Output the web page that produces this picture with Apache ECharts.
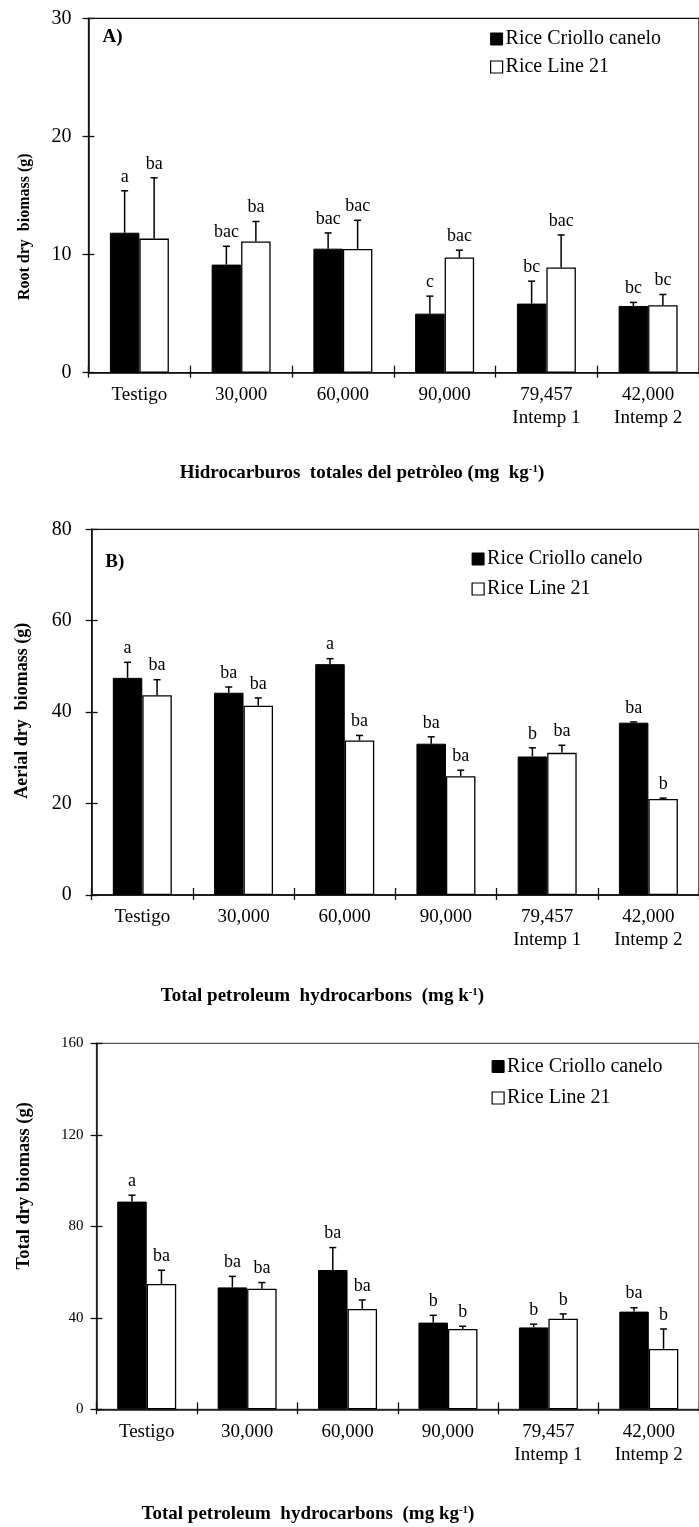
<!DOCTYPE html>
<html>
<head>
<meta charset="utf-8">
<script src="https://cdn.jsdelivr.net/npm/echarts@6/dist/echarts.min.js"></script>
<style>
html,body{margin:0;padding:0;background:#fff;overflow:hidden;}
#chart{width:699px;height:1527px;}
</style>
</head>
<body>
<div id="chart"></div>
<script>
// ---- data ----
const categories = ['Testigo', '30,000', '60,000', '90,000', '79,457\nIntemp 1', '42,000\nIntemp 2'];
const seriesNames = ['Rice Criollo canelo', 'Rice Line 21'];

// A) Root dry biomass (g)
const rootCriollo = [11.85, 9.15, 10.5, 5.0, 5.85, 5.65];
const rootCriolloErr = [3.55, 1.55, 1.33, 1.48, 1.9, 0.3];
const rootCriolloLetters = ['a', 'bac', 'bac', 'c', 'bc', 'bc'];
const rootLine21 = [11.35, 11.1, 10.48, 9.75, 8.9, 5.72];
const rootLine21Err = [5.15, 1.7, 2.42, 0.62, 2.76, 0.9];
const rootLine21Letters = ['ba', 'ba', 'bac', 'bac', 'bac', 'bc'];
const rootTicks = [0, 30, 10];

// B) Aerial dry biomass (g)
const aerialCriollo = [47.5, 44.25, 50.5, 33.1, 30.3, 37.7];
const aerialCriolloErr = [3.4, 1.25, 1.2, 1.5, 1.9, 0.15];
const aerialCriolloLetters = ['a', 'ba', 'a', 'ba', 'b', 'ba'];
const aerialLine21 = [43.7, 41.4, 33.8, 26.0, 31.1, 21.0];
const aerialLine21Err = [3.4, 1.7, 1.1, 1.3, 1.65, 0.2];
const aerialLine21Letters = ['ba', 'ba', 'ba', 'ba', 'ba', 'b'];
const aerialTicks = [0, 80, 20];

// C) Total dry biomass (g)
const totalCriollo = [90.8, 53.3, 60.9, 37.9, 35.8, 42.7];
const totalCriolloErr = [2.8, 4.8, 9.8, 3.2, 1.4, 1.7];
const totalCriolloLetters = ['a', 'ba', 'ba', 'b', 'b', 'ba'];
const totalLine21 = [54.8, 52.75, 43.9, 35.1, 39.6, 26.4];
const totalLine21Err = [6.0, 2.65, 3.9, 1.2, 2.1, 8.7];
const totalLine21Letters = ['ba', 'ba', 'ba', 'b', 'b', 'b'];
const totalTicks = [0, 160, 40];

// ---- layout / style ----
const SERIF = '"Liberation Serif", "Times New Roman", serif';
const INK = '#111';
const BAR_W = 29.5;

const panels = [
  {grid: {left: 88.5, top: 18.3, width: 618, height: 354.4}, ticks: rootTicks, yLabelSize: 20, yMargin: 17,
   borderColor: INK,
   a: [rootCriollo, rootCriolloErr, rootCriolloLetters], b: [rootLine21, rootLine21Err, rootLine21Letters],
   legend: {left: 490, top: 29, itemGap: 8}},
  {grid: {left: 91.7, top: 529.3, width: 613.4, height: 365.7}, ticks: aerialTicks, yLabelSize: 20, yMargin: 20,
   borderColor: INK,
   a: [aerialCriollo, aerialCriolloErr, aerialCriolloLetters], b: [aerialLine21, aerialLine21Err, aerialLine21Letters],
   legend: {left: 471.5, top: 549, itemGap: 10}},
  {grid: {left: 96.5, top: 1043.3, width: 614, height: 366}, ticks: totalTicks, yLabelSize: 15, yMargin: 13,
   borderColor: '#555',
   a: [totalCriollo, totalCriolloErr, totalCriolloLetters], b: [totalLine21, totalLine21Err, totalLine21Letters],
   legend: {left: 491.5, top: 1056.5, itemGap: 11.5}}
];

const grids = [], xAxes = [], yAxes = [], series = [], legends = [];

function errSeries(axisIdx, means, errs, letters, side) {
  return {
    type: 'custom', xAxisIndex: axisIdx, yAxisIndex: axisIdx, z: 5, clip: false,
    data: means.map((m, i) => [i, m, m + errs[i]]),
    renderItem: function (params, api) {
      const i = api.value(0);
      const base = api.coord([i, api.value(1)]);
      const top = api.coord([i, api.value(2)]);
      const x = base[0] + side * BAR_W / 2;
      return {
        type: 'group',
        children: [
          {type: 'line', shape: {x1: x, y1: base[1], x2: x, y2: top[1]}, style: {stroke: '#000', lineWidth: 1.5}},
          {type: 'line', shape: {x1: x - 3.5, y1: top[1], x2: x + 3.5, y2: top[1]}, style: {stroke: '#000', lineWidth: 1.5}},
          {type: 'text', x: x, y: top[1] - 5,
           style: {text: letters[params.dataIndex], font: '18px ' + SERIF, fill: '#000',
                   align: 'center', verticalAlign: 'bottom', textAlign: 'center', textVerticalAlign: 'bottom'}}
        ]
      };
    }
  };
}

panels.forEach((p, k) => {
  grids.push(Object.assign({show: true, borderColor: p.borderColor, borderWidth: 1.3, backgroundColor: 'transparent'}, p.grid));
  const ax = k * 2;
  xAxes.push({
    type: 'category', gridIndex: k, data: categories, position: 'bottom',
    axisLine: {show: true, lineStyle: {color: INK, width: 1.5}},
    axisTick: {show: true, length: 5, lineStyle: {color: INK, width: 1.3}},
    axisLabel: {interval: 0, color: '#000', fontFamily: SERIF, fontSize: 19, lineHeight: 23, margin: 11}
  });
  xAxes.push({
    type: 'category', gridIndex: k, data: categories, position: 'bottom',
    axisLine: {show: false},
    axisTick: {show: true, inside: true, length: 7, lineStyle: {color: INK, width: 1.3}},
    axisLabel: {show: false}
  });
  yAxes.push({
    type: 'value', gridIndex: k, min: p.ticks[0], max: p.ticks[1], interval: p.ticks[2], position: 'left',
    axisLine: {show: true, lineStyle: {color: INK, width: 1.5}},
    axisTick: {show: true, length: 6, lineStyle: {color: INK, width: 1.3}},
    axisLabel: {color: '#000', fontFamily: SERIF, fontSize: p.yLabelSize, margin: p.yMargin},
    splitLine: {show: false}
  });
  yAxes.push({
    type: 'value', gridIndex: k, min: p.ticks[0], max: p.ticks[1], interval: p.ticks[2], position: 'left',
    axisLine: {show: false},
    axisTick: {show: true, inside: true, length: 6, lineStyle: {color: INK, width: 1.3}},
    axisLabel: {show: false}, splitLine: {show: false}
  });
  series.push({
    type: 'bar', name: seriesNames[0], xAxisIndex: ax, yAxisIndex: ax, data: p.a[0],
    barWidth: BAR_W, barGap: '0%',
    itemStyle: {color: '#000', borderColor: '#000', borderWidth: 1}
  });
  series.push({
    type: 'bar', name: seriesNames[1], xAxisIndex: ax, yAxisIndex: ax, data: p.b[0],
    barWidth: BAR_W, barGap: '0%',
    itemStyle: {color: '#fff', borderColor: '#000', borderWidth: 1.3}
  });
  series.push(errSeries(ax, p.a[0], p.a[1], p.a[2], -1));
  series.push(errSeries(ax, p.b[0], p.b[1], p.b[2], 1));
  legends.push({
    left: p.legend.left, top: p.legend.top, orient: 'vertical', padding: 0, itemGap: p.legend.itemGap,
    itemWidth: 12, itemHeight: 12, icon: 'rect', selectedMode: false,
    textStyle: {fontFamily: SERIF, fontSize: 20, color: '#000', padding: [0, 0, 0, -2]},
    data: [
      {name: seriesNames[0], itemStyle: {color: '#000', borderColor: '#000', borderWidth: 1}},
      {name: seriesNames[1], itemStyle: {color: '#fff', borderColor: '#000', borderWidth: 1.2}}
    ]
  });
});

function txt(x, y, text, size, rot, rich) {
  const st = {text: text, font: 'bold ' + size + 'px ' + SERIF, fill: '#000',
              align: 'center', verticalAlign: 'middle', textAlign: 'center', textVerticalAlign: 'middle'};
  if (rich) st.rich = rich;
  return {type: 'text', x: x, y: y, rotation: rot || 0, style: st};
}
function supRich(size) {
  return {
    t: {fontFamily: SERIF, fontWeight: 'bold', fontSize: size, fill: '#000', color: '#000'},
    s: {fontFamily: SERIF, fontWeight: 'bold', fontSize: Math.round(size * 0.6), fill: '#000', color: '#000', verticalAlign: 'top', padding: [0, 0, 8, 0]}
  };
}

const graphics = [
  txt(112.5, 37, 'A)', 19),
  txt(114.8, 561.7, 'B)', 19),
  txt(24.5, 226.7, 'Root dry  biomass (g)', 16, Math.PI / 2),
  txt(22, 710.8, 'Aerial dry  biomass (g)', 18, Math.PI / 2),
  txt(24, 1185.8, 'Total dry biomass (g)', 18.5, Math.PI / 2),
  txt(362, 473, '{t|Hidrocarburos  totales del petròleo (mg  kg}{s|-1}{t|)}', 19, 0, supRich(19)),
  txt(322.5, 996, '{t|Total petroleum  hydrocarbons  (mg k}{s|-1}{t|)}', 19, 0, supRich(19)),
  txt(308, 1514, '{t|Total petroleum  hydrocarbons  (mg kg}{s|-1}{t|)}', 19, 0, supRich(19))
];

const chart = echarts.init(document.getElementById('chart'), null, {renderer: 'canvas'});
chart.setOption({
  animation: false,
  backgroundColor: '#fff',
  grid: grids,
  xAxis: xAxes,
  yAxis: yAxes,
  legend: legends,
  series: series,
  graphic: graphics
});
</script>
</body>
</html>
